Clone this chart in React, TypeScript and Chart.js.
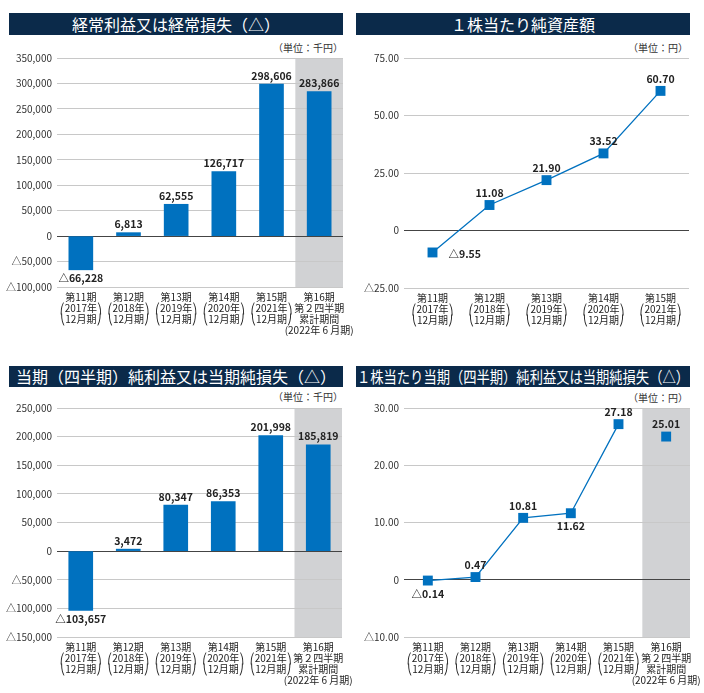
import React, { useEffect, useRef } from 'react';
import { Chart, registerables } from 'chart.js';

Chart.register(...registerables);

// ---------------- data ----------------
const periodNames = ['第11期', '第12期', '第13期', '第14期', '第15期'];
const fiscalYears = ['2017年', '2018年', '2019年', '2020年', '2021年'];
const fiscalMonth = '12月期';
const halfYearLabel = ['第16期', '第２四半期', '累計期間', '(2022年 6 月期)'];

const ordinaryIncome = [-66228, 6813, 62555, 126717, 298606, 283866];
const netIncome = [-103657, 3472, 80347, 86353, 201998, 185819];
const bookValuePerShare = [-9.55, 11.08, 21.9, 33.52, 60.7];
const earningsPerShare = [-0.14, 0.47, 10.81, 11.62, 27.18, 25.01];

const ordinaryAxis = { min: -100000, max: 350000, step: 50000 };
const netAxis = { min: -150000, max: 250000, step: 50000 };
const bpsAxis = { min: -25, max: 75, step: 25 };
const epsAxis = { min: -10, max: 30, step: 10 };

const titles = [
  '経常利益又は経常損失（△）',
  '１株当たり純資産額',
  '当期（四半期）純利益又は当期純損失（△）',
  '１株当たり当期（四半期）純利益又は当期純損失（△）',
];
const unitThousand = '（単位：千円）';
const unitYen = '（単位：円）';

// label placement (style, not data)
const bpsLabelPlacement = ['right', 'above', 'above', 'above', 'above'];
const epsLabelPlacement = ['below', 'above', 'above', 'below', 'above', 'above'];

// ---------------- helpers ----------------
const FONT = '"Noto Sans CJK JP", "DejaVu Sans", sans-serif';
const BLUE = '#0071bf';
const NAVY = '#0b2a4a';
const BAND = '#d1d2d4';

const annualLabels = periodNames.map((p, i) => [p, '⎛' + fiscalYears[i] + '⎞', '⎝' + fiscalMonth + '⎠']);
const labelsWithHalf = [...annualLabels, halfYearLabel];

const fmtThousands = (v: number) =>
  v === 0 ? '0' : (v < 0 ? '△' : '') + Math.abs(v).toLocaleString('en-US');
const fmtYen = (v: number) => (v === 0 ? '0' : (v < 0 ? '△' : '') + Math.abs(v).toFixed(2));

function makeLabelPlugin(format: (v: number) => string, placement?: string[]) {
  return {
    id: 'valueLabels',
    afterDatasetsDraw(chart: any) {
      const ctx = chart.ctx;
      const meta = chart.getDatasetMeta(0);
      const data = chart.data.datasets[0].data as number[];
      const isBar = chart.config.type === 'bar';
      ctx.save();
      ctx.font = `600 10.5px ${FONT}`;
      ctx.fillStyle = '#222';
      meta.data.forEach((el: any, i: number) => {
        const v = data[i];
        if (v === null || v === undefined) return;
        const pos = placement ? placement[i] : v < 0 ? 'below' : 'above';
        let top: number;
        let bottom: number;
        if (isBar) {
          top = Math.min(el.y, el.base);
          bottom = Math.max(el.y, el.base);
        } else {
          top = el.y - 4;
          bottom = el.y + 5;
        }
        const text = format(v);
        if (pos === 'right') {
          ctx.textAlign = 'left';
          ctx.textBaseline = 'middle';
          ctx.fillText(text, el.x + 16, el.y + 2);
        } else if (pos === 'below') {
          ctx.textAlign = 'center';
          ctx.textBaseline = 'top';
          ctx.fillText(text, el.x, bottom + 3);
        } else {
          ctx.textAlign = 'center';
          ctx.textBaseline = 'bottom';
          ctx.fillText(text, el.x, top - 3);
        }
      });
      ctx.restore();
    },
  };
}

function makeBandPlugin(index: number) {
  return {
    id: 'band',
    beforeDraw(chart: any) {
      const x = chart.scales.x;
      const area = chart.chartArea;
      const left = (x.getPixelForValue(index - 1) + x.getPixelForValue(index)) / 2;
      const ctx = chart.ctx;
      ctx.save();
      ctx.fillStyle = BAND;
      ctx.fillRect(left, area.top, area.right - left, area.bottom - area.top);
      ctx.restore();
    },
  };
}

interface Geo {
  yWidth: number;
  xHeight: number;
  rightPad: number;
}

function baseOptions(axis: { min: number; max: number; step: number }, fmt: (v: number) => string, g: Geo) {
  return {
    responsive: false,
    maintainAspectRatio: false,
    animation: false,
    layout: { padding: { top: 18, left: 0, right: g.rightPad, bottom: 0 } },
    plugins: { legend: { display: false }, tooltip: { enabled: false } },
    scales: {
      x: {
        type: 'category',
        offset: true,
        grid: { display: false, drawTicks: false },
        border: { display: false },
        ticks: {
          color: '#222',
          font: { family: FONT, size: 10, lineHeight: 1.1 },
          padding: 5,
          maxRotation: 0,
          minRotation: 0,
          autoSkip: false,
        },
        afterFit: (s: any) => {
          s.height = g.xHeight;
          s.paddingLeft = 0;
          s.paddingRight = 0;
        },
      },
      y: {
        min: axis.min,
        max: axis.max,
        ticks: {
          stepSize: axis.step,
          callback: (v: any) => fmt(Number(v)),
          color: '#333',
          font: { family: FONT, size: 10 },
          padding: 5,
        },
        grid: {
          color: (c: any) => (c.tick && c.tick.value === 0 ? '#444' : '#c8c8c8'),
          lineWidth: 1,
          drawTicks: false,
        },
        border: { display: false },
        afterFit: (s: any) => {
          s.width = g.yWidth;
          s.paddingTop = 0;
          s.paddingBottom = 0;
        },
      },
    },
  };
}

function barConfig(values: number[], axis: any, g: Geo) {
  return {
    type: 'bar',
    data: {
      labels: labelsWithHalf,
      datasets: [{ data: values, backgroundColor: BLUE, borderWidth: 0, barThickness: 24 }],
    },
    options: baseOptions(axis, fmtThousands, g),
    plugins: [makeBandPlugin(values.length - 1), makeLabelPlugin(fmtThousands)],
  };
}

function lineConfig(values: number[], labels: any[], axis: any, g: Geo, placement: string[], band: boolean, lastLinked: number) {
  const plugins: any[] = [];
  if (band) plugins.push(makeBandPlugin(values.length - 1));
  plugins.push(makeLabelPlugin(fmtYen, placement));
  return {
    type: 'line',
    data: {
      labels,
      datasets: [
        {
          data: values,
          borderColor: BLUE,
          borderWidth: 1.3,
          pointStyle: 'rect',
          pointRadius: 7,
          pointBackgroundColor: BLUE,
          pointBorderWidth: 0,
          tension: 0,
          segment: {
            borderColor: (c: any) => (c.p1DataIndex > lastLinked ? 'rgba(0,0,0,0)' : BLUE),
          },
        },
      ],
    },
    options: baseOptions(axis, fmtYen, g),
    plugins,
  };
}

function ChartCanvas({ make, left, top, width, height }: any) {
  const ref = useRef<HTMLCanvasElement | null>(null);
  useEffect(() => {
    const chart = new Chart(ref.current as HTMLCanvasElement, make());
    return () => chart.destroy();
  }, []);
  return (
    <canvas
      ref={ref}
      width={width}
      height={height}
      style={{ position: 'absolute', left, top, width, height, display: 'block' }}
    />
  );
}

function TitleBar({ text, left, top, height, squeeze }: any) {
  return (
    <div
      style={{
        position: 'absolute',
        left,
        top,
        width: 334,
        height,
        background: NAVY,
        color: '#fff',
        fontFamily: FONT,
        fontSize: 16,
        fontWeight: 400,
        lineHeight: height + 'px',
        whiteSpace: 'nowrap',
        overflow: 'hidden',
      }}
    >
      <span
        style={{
          position: 'absolute',
          left: '50%',
          top: 0,
          transform: `translateX(-50%) scaleX(${squeeze || 1})`,
          transformOrigin: 'center',
        }}
      >
        {text}
      </span>
    </div>
  );
}

function Unit({ text, right, top }: any) {
  return (
    <div
      style={{
        position: 'absolute',
        left: right - 150,
        width: 150,
        top,
        textAlign: 'right',
        fontFamily: FONT,
        fontSize: 10,
        lineHeight: '14px',
        color: '#333',
        whiteSpace: 'nowrap',
      }}
    >
      {text}
    </div>
  );
}

export default function App() {
  return (
    <div
      style={{
        position: 'absolute',
        left: 0,
        top: 0,
        width: 704,
        height: 693,
        background: '#fff',
        overflow: 'hidden',
      }}
    >
      <TitleBar text={titles[0]} left={9} top={13} height={22} />
      <TitleBar text={titles[1]} left={356} top={13} height={22} />
      <TitleBar text={titles[2]} left={9} top={366} height={21} />
      <TitleBar text={titles[3]} left={356} top={366} height={21} squeeze={0.83} />

      <Unit text={unitThousand} right={343} top={41} />
      <Unit text={unitYen} right={688} top={41} />
      <Unit text={unitThousand} right={343} top={390} />
      <Unit text={unitYen} right={688} top={391} />

      <ChartCanvas
        left={0}
        top={40}
        width={362}
        height={305}
        make={() => barConfig(ordinaryIncome, ordinaryAxis, { yWidth: 57, xHeight: 58, rightPad: 19 })}
      />
      <ChartCanvas
        left={0}
        top={390}
        width={362}
        height={303}
        make={() => barConfig(netIncome, netAxis, { yWidth: 57, xHeight: 56, rightPad: 20 })}
      />
      <ChartCanvas
        left={352}
        top={40}
        width={352}
        height={300}
        make={() =>
          lineConfig(bookValuePerShare, annualLabels, bpsAxis, { yWidth: 52, xHeight: 52, rightPad: 15 }, bpsLabelPlacement, false, 99)
        }
      />
      <ChartCanvas
        left={352}
        top={390}
        width={352}
        height={303}
        make={() =>
          lineConfig(earningsPerShare, labelsWithHalf, epsAxis, { yWidth: 52, xHeight: 56, rightPad: 14 }, epsLabelPlacement, true, 4)
        }
      />
    </div>
  );
}
